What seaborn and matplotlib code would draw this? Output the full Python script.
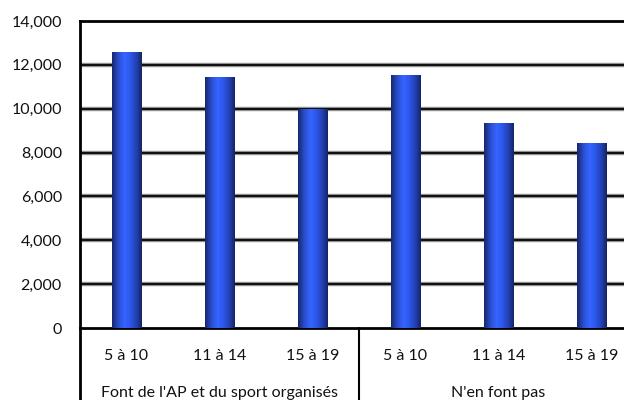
import numpy as np
import pandas as pd
import seaborn as sns
import matplotlib
matplotlib.use("Agg")
from matplotlib import pyplot as plt
from matplotlib.colors import LinearSegmentedColormap
from matplotlib.ticker import FuncFormatter
import matplotlib.transforms as mtransforms

# data
groups = ["Font de l'AP et du sport organisés", "N'en font pas"]
ages = ["5 à 10", "11 à 14", "15 à 19"]
values_sport = [12600, 11450, 10000]
values_none = [11550, 9350, 8450]
y_ticks = [0, 2000, 4000, 6000, 8000, 10000, 12000, 14000]

df = pd.DataFrame({
    "slot": [f"{g}|{a}" for g in groups for a in ages],
    "age": ages * 2,
    "value": values_sport + values_none,
})

sns.set_theme(style="white")
plt.rcParams['font.family'] = ['Lato', 'DejaVu Sans']

fig = plt.figure(figsize=(6.24, 4.0), dpi=100)
ax = fig.add_axes([80 / 624, 72 / 400, 558 / 624, 307 / 400])

sns.barplot(data=df, x="slot", y="value", color="#2f5cf0", width=0.32,
            ax=ax, saturation=1, zorder=3)

# cylinder-like gradient on the bars
cmap = LinearSegmentedColormap.from_list(
    "cyl", [(0.0, "#17276a"), (0.22, "#2a4fd0"), (0.42, "#3565ff"),
            (0.6, "#2d58ee"), (0.82, "#2340b0"), (1.0, "#152463")])
grad = np.linspace(0, 1, 256).reshape(1, -1)
for p in ax.patches:
    x0, y0 = p.get_x(), p.get_y()
    w, h = p.get_width(), p.get_height()
    im = ax.imshow(grad, cmap=cmap, aspect="auto", extent=[x0, x0 + w, y0, y0 + h],
                   zorder=4)
    im.set_clip_path(p)
    p.set_edgecolor("none")

ax.set_xlim(-0.5, 5.5)
ax.set_ylim(0, 14000)
ax.set_yticks(y_ticks)
ax.yaxis.set_major_formatter(FuncFormatter(lambda v, _: f"{int(v):,}"))
ax.tick_params(axis="y", length=0, pad=13, labelsize=11.5, labelcolor="#111111")
ax.set_xticks(range(6))
ax.set_xticklabels(ages * 2)
ax.tick_params(axis="x", length=0, pad=15, labelsize=11.5, labelcolor="#111111")
ax.set_xlabel("")
ax.set_ylabel("")

for yv in y_ticks[1:-1]:
    ax.axhline(yv, color="#a0a0a0", lw=3.2, zorder=1)
    ax.axhline(yv, color="#111111", lw=1.6, zorder=2)

for side in ["top", "bottom", "left"]:
    ax.spines[side].set_color("black")
    ax.spines[side].set_linewidth(2)
ax.spines["right"].set_visible(False)

# group separators and labels below the axis
trans = mtransforms.blended_transform_factory(ax.transData, ax.transAxes)
ybot = -72 / 307
ax.plot([-0.5, -0.5], [0, ybot], transform=trans, color="black", lw=2, clip_on=False)
ax.plot([2.5, 2.5], [0, ybot], transform=trans, color="black", lw=1.5, clip_on=False)
ax.text(1, -65 / 307, groups[0], transform=trans, ha="center", va="center",
        fontsize=11.5, color="#111111")
ax.text(4, -65 / 307, groups[1], transform=trans, ha="center", va="center",
        fontsize=11.5, color="#111111")

fig.savefig("out.png", dpi=100)
